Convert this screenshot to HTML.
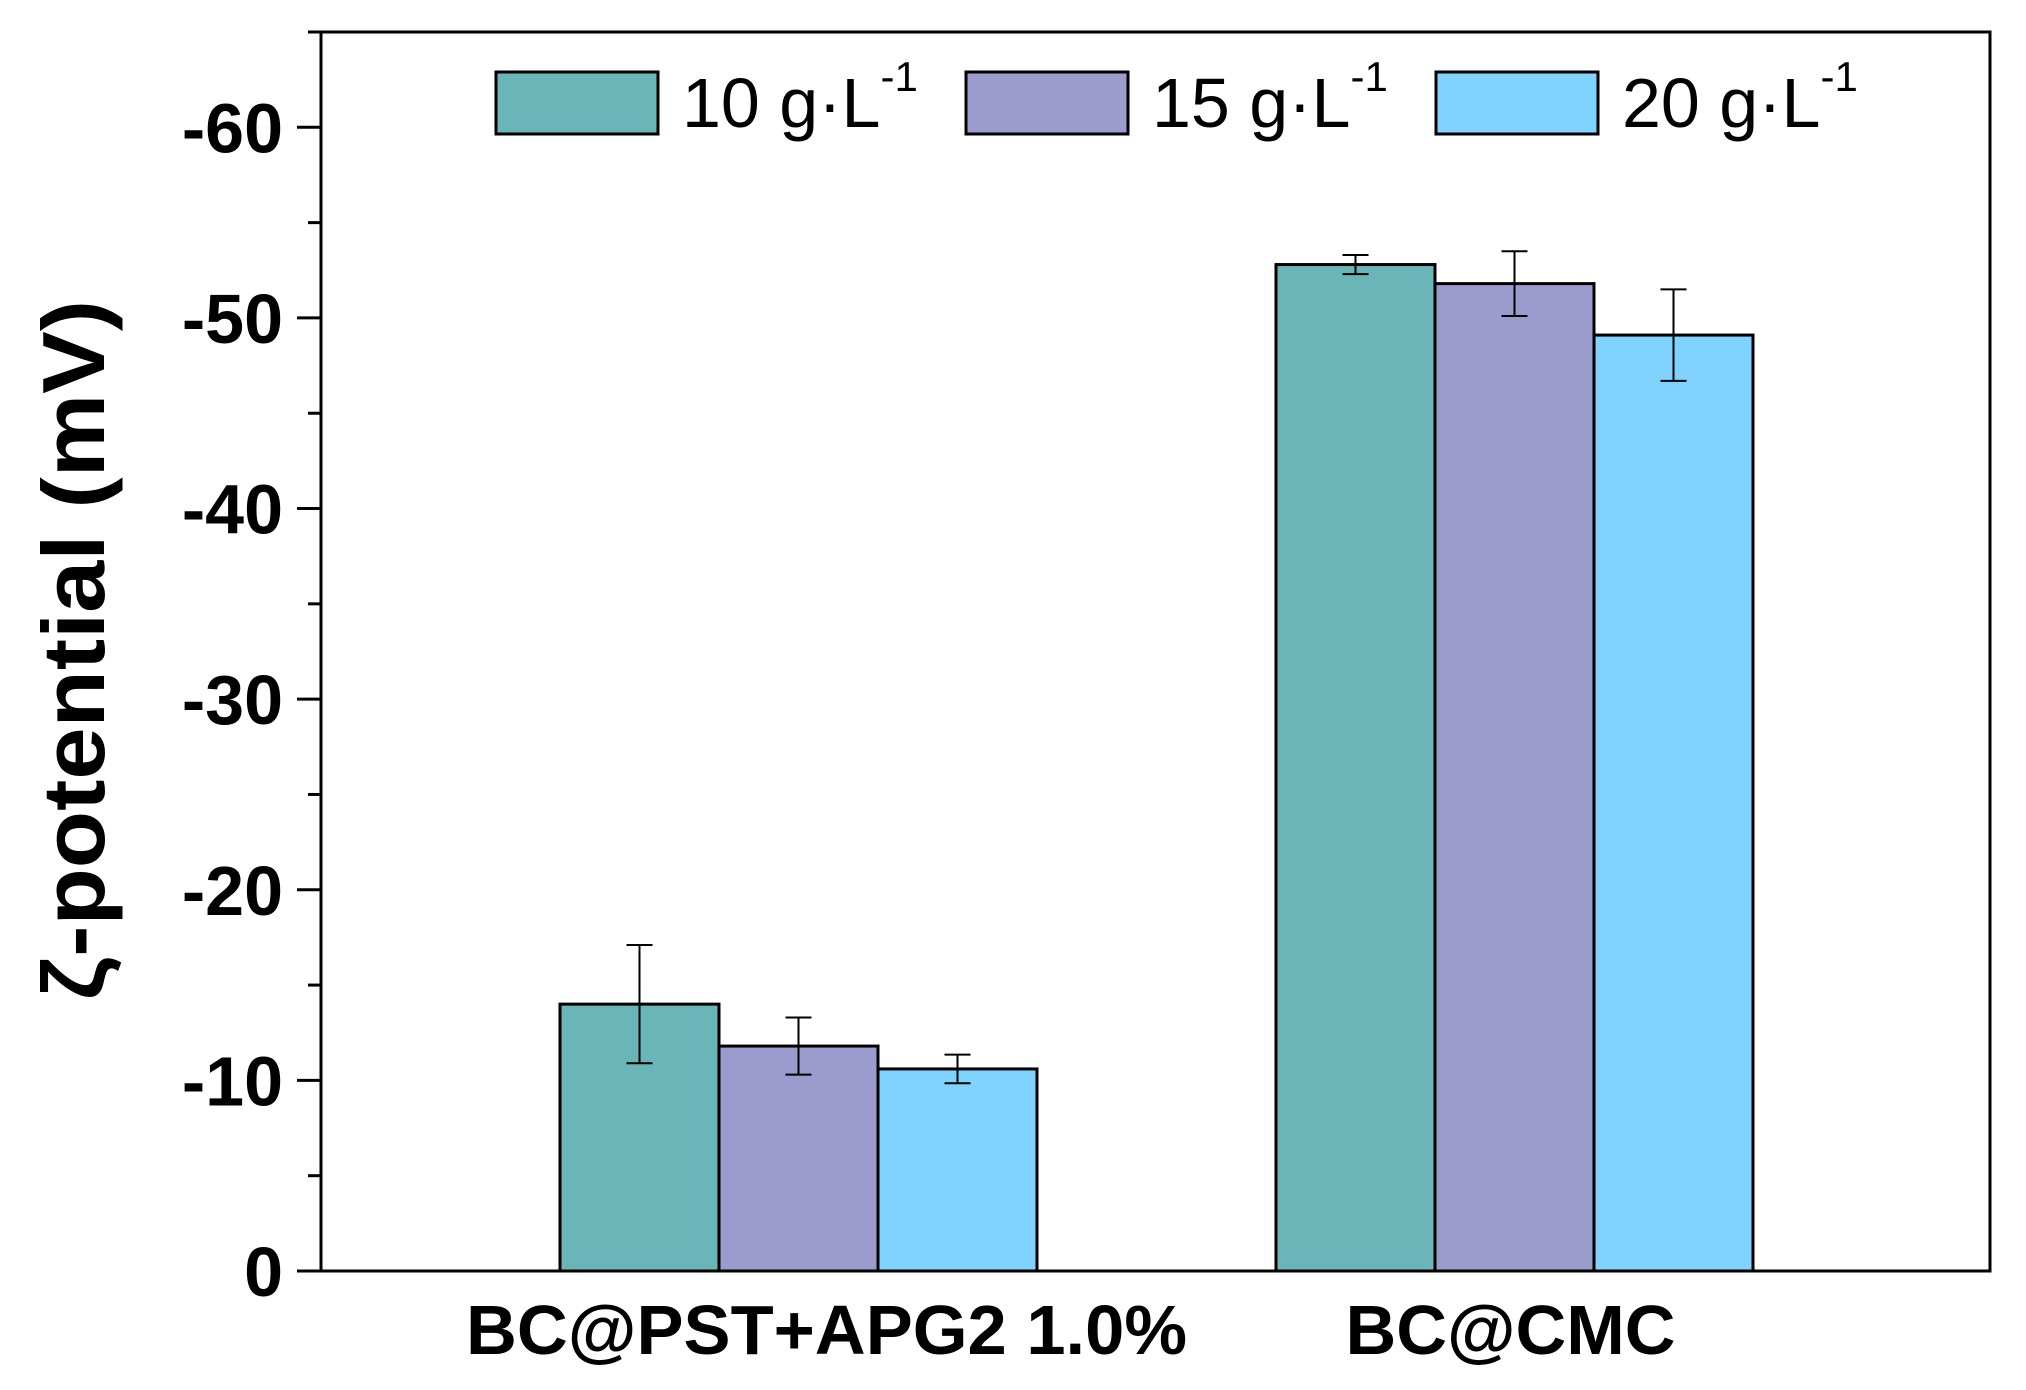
<!DOCTYPE html>
<html><head><meta charset="utf-8"><style>body{margin:0;background:#fff}svg{display:block}</style></head>
<body>
<svg id="chart" width="2026" height="1390" viewBox="0 0 2026 1390" xmlns="http://www.w3.org/2000/svg" font-family="Liberation Sans, Arial, sans-serif"></svg>
<script>
const categories = ["BC@PST+APG2 1.0%", "BC@CMC"];
const seriesNames = ["10", "15", "20"];
const seriesColors = ["#6ab5b7", "#9c9bcd", "#7fd3fe"];
const s10 = [14.0, 52.8];
const s15 = [11.8, 51.8];
const s20 = [10.6, 49.1];
const e10 = [3.1, 0.5];
const e15 = [1.5, 1.7];
const e20 = [0.75, 2.4];
const yTicks = [0, 10, 20, 30, 40, 50, 60];
const yTickLabels = ["0", "-10", "-20", "-30", "-40", "-50", "-60"];

const NS = "http://www.w3.org/2000/svg";
const svg = document.getElementById('chart');
const L = 321, R = 1990, T = 32, B = 1271;
const yMax = 65;
const y = v => B - v * (B - T) / yMax;
const groupStart = [560, 1276];
const barW = 159;
function el(tag, attrs, parent) {
  const e = document.createElementNS(NS, tag);
  for (const k in attrs) e.setAttribute(k, attrs[k]);
  (parent || svg).appendChild(e);
  return e;
}
const series = [s10, s15, s20];
const errs = [e10, e15, e20];
series.forEach((s, si) => {
  s.forEach((v, ci) => {
    const x = groupStart[ci] + si * barW;
    const r = el('rect', {x: x, y: y(v), width: barW, height: B - y(v), fill: seriesColors[si], stroke: '#000', 'stroke-width': 3});
    
    
    const cx = x + barW / 2, e = errs[si][ci];
    const g = el('g', {stroke: '#000', 'stroke-width': 2});
    
    
    el('line', {x1: cx, x2: cx, y1: y(v + e), y2: y(v - e)}, g);
    el('line', {x1: cx - 13, x2: cx + 13, y1: y(v + e), y2: y(v + e)}, g);
    el('line', {x1: cx - 13, x2: cx + 13, y1: y(v - e), y2: y(v - e)}, g);
  });
});
const frame = el('rect', {x: L, y: T, width: R - L, height: B - T, fill: 'none', stroke: '#000', 'stroke-width': 3});


for (let v = 0; v <= 65; v += 5) {
  const major = v % 10 === 0;
  const t = el('line', {x1: L - (major ? 24 : 13), x2: L, y1: y(v), y2: y(v), stroke: '#000', 'stroke-width': 3});
  
  
}
yTicks.forEach((v, i) => {
  const t = el('text', {x: L - 38, y: y(v) + 25, 'text-anchor': 'end', 'font-size': 70, 'font-weight': 'bold'});
  t.textContent = yTickLabels[i];
  
  
});
const xLabelLen = [721, 330];
const xLabelShift = [28, -4];
categories.forEach((c, ci) => {
  const t = el('text', {x: groupStart[ci] + barW * 1.5 + xLabelShift[ci], y: 1354, 'text-anchor': 'middle', 'font-size': 70, 'font-weight': 'bold', textLength: xLabelLen[ci], lengthAdjust: 'spacingAndGlyphs'});
  t.textContent = c;
  
  
});
const yt = el('text', {x: 0, y: 0, transform: 'translate(104,650) rotate(-90)', 'text-anchor': 'middle', 'font-size': 88, 'font-weight': 'bold', textLength: 700, lengthAdjust: 'spacingAndGlyphs'});
yt.textContent = 'ζ-potential (mV)';


const legX = [496, 966, 1436];
seriesNames.forEach((n, i) => {
  const g = el('g', {});
  
  
  el('rect', {x: legX[i], y: 72, width: 162, height: 62, fill: seriesColors[i], stroke: '#000', 'stroke-width': 3}, g);
  const t = el('text', {x: legX[i] + 186, y: 127, 'font-size': 70}, g);
  t.textContent = n + ' g·L';
  const sup = el('tspan', {'font-size': 42, dy: -36}, t);
  sup.textContent = '-1';
});
</script>
</body></html>
